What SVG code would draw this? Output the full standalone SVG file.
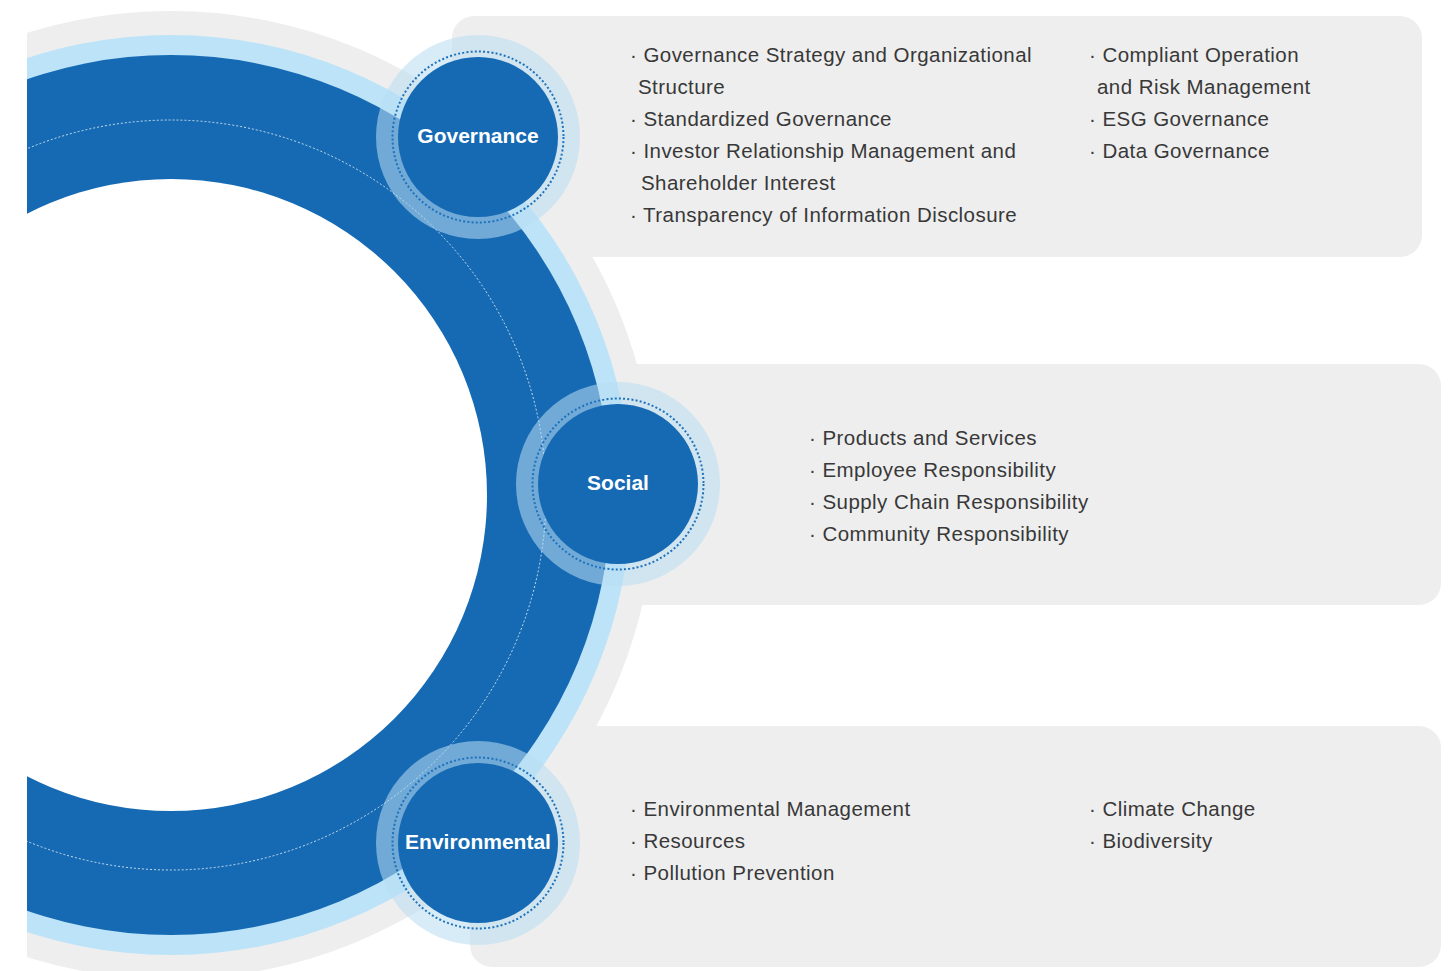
<svg xmlns="http://www.w3.org/2000/svg" width="1456" height="971" viewBox="0 0 1456 971">
  <style>
    .panel { fill: #eeeeee; }
    .item { font-family: "Liberation Sans", Arial, Helvetica, sans-serif; font-size: 20.5px; letter-spacing: 0.45px; fill: #383838; }
    .halo { fill: #badef3; fill-opacity: 0.56; }
    .core { fill: #156ab3; }
    .dots { fill: none; stroke: #1e72bb; stroke-width: 2; stroke-dasharray: 2 2.2; }
    .label { font-family: "Liberation Sans", Arial, Helvetica, sans-serif; font-size: 21px; font-weight: bold; fill: #ffffff; text-anchor: middle; }
  </style>
  <defs>
    <clipPath id="leftCut">
      <rect x="27" y="0" width="1429" height="971"/>
    </clipPath>
  </defs>

  <rect width="1456" height="971" fill="#ffffff"/>

  <!-- grey backdrop disc behind the ring -->
  <circle cx="171" cy="495" r="484" fill="#eeeeee" clip-path="url(#leftCut)"/>

  <!-- content panels -->
  <g id="panel-governance">
    <rect class="panel" x="452" y="16" width="970" height="241" rx="22"/>
    <text class="item" x="630" y="62">· Governance Strategy and Organizational</text>
    <text class="item" x="638" y="94">Structure</text>
    <text class="item" x="630" y="126">· Standardized Governance</text>
    <text class="item" x="630" y="158">· Investor Relationship Management and</text>
    <text class="item" x="641" y="190">Shareholder Interest</text>
    <text class="item" x="630" y="222">· Transparency of Information Disclosure</text>
    <text class="item" x="1089" y="62">· Compliant Operation</text>
    <text class="item" x="1097" y="94">and Risk Management</text>
    <text class="item" x="1089" y="126">· ESG Governance</text>
    <text class="item" x="1089" y="158">· Data Governance</text>
  </g>
  <g id="panel-social">
    <rect class="panel" x="500" y="364" width="941" height="241" rx="22"/>
    <text class="item" x="809" y="445">· Products and Services</text>
    <text class="item" x="809" y="477">· Employee Responsibility</text>
    <text class="item" x="809" y="509">· Supply Chain Responsibility</text>
    <text class="item" x="809" y="541">· Community Responsibility</text>
  </g>
  <g id="panel-environmental">
    <rect class="panel" x="470" y="726" width="971" height="241" rx="22"/>
    <text class="item" x="630" y="816">· Environmental Management</text>
    <text class="item" x="630" y="848">· Resources</text>
    <text class="item" x="630" y="880">· Pollution Prevention</text>
    <text class="item" x="1089" y="816">· Climate Change</text>
    <text class="item" x="1089" y="848">· Biodiversity</text>
  </g>

  <!-- main ring linking the three pillars -->
  <g id="ring" clip-path="url(#leftCut)">
    <circle cx="171" cy="495" r="460" fill="#bce3f8"/>
    <circle cx="171" cy="495" r="440" fill="#156ab3"/>
    <circle cx="171" cy="495" r="375" fill="none" stroke="#ffffff" stroke-opacity="0.75" stroke-width="1" stroke-dasharray="2 2"/>
    <circle cx="171" cy="495" r="316" fill="#ffffff"/>
  </g>

  <!-- pillar badges -->
  <g id="node-governance">
    <circle class="halo" cx="478" cy="137" r="102"/>
    <circle class="dots" cx="478" cy="137" r="85.5"/>
    <circle class="core" cx="478" cy="137" r="80"/>
    <text class="label" x="478" y="143">Governance</text>
  </g>
  <g id="node-social">
    <circle class="halo" cx="618" cy="484" r="102"/>
    <circle class="dots" cx="618" cy="484" r="85.5"/>
    <circle class="core" cx="618" cy="484" r="80"/>
    <text class="label" x="618" y="490">Social</text>
  </g>
  <g id="node-environmental">
    <circle class="halo" cx="478" cy="843" r="102"/>
    <circle class="dots" cx="478" cy="843" r="85.5"/>
    <circle class="core" cx="478" cy="843" r="80"/>
    <text class="label" x="478" y="849">Environmental</text>
  </g>
</svg>
